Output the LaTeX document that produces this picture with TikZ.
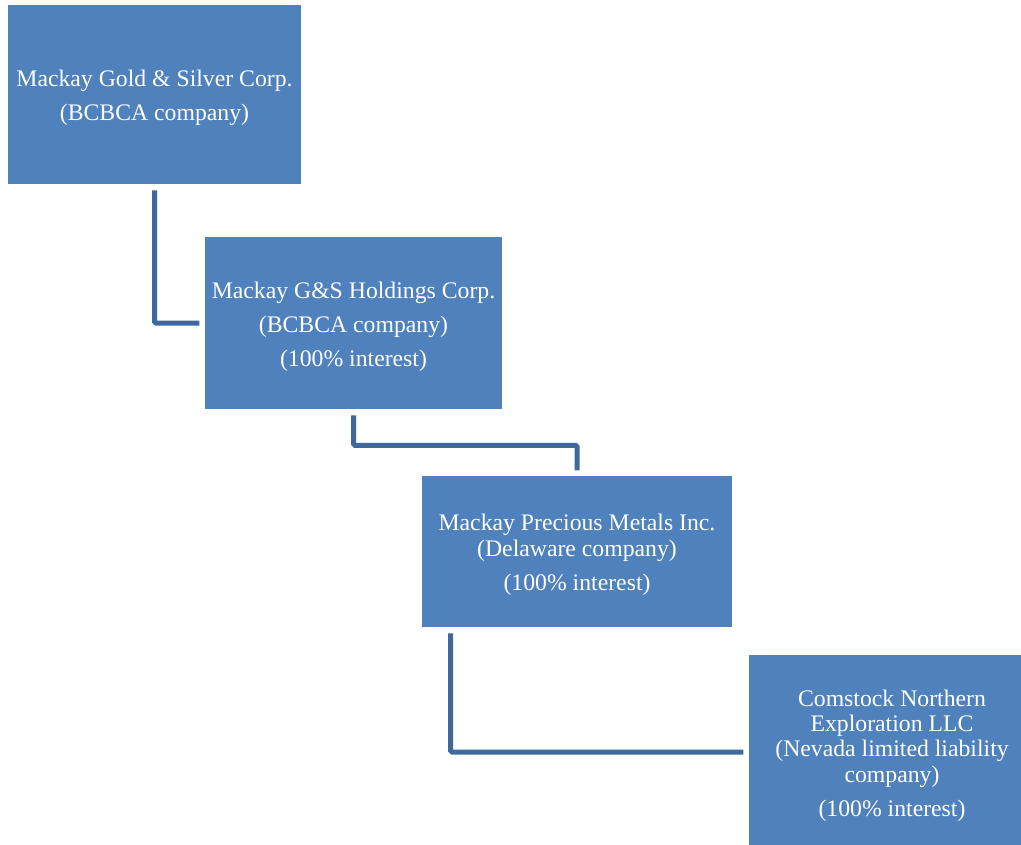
\documentclass[tikz,border=0pt]{standalone}
\usepackage{fontspec}
\setmainfont{Liberation Serif}
\usepackage{xcolor}
\usepackage{tikz}
\definecolor{boxblue}{RGB}{79,129,189}
\definecolor{linkblue}{RGB}{62,104,158}
\tikzstyle{entity}=[fill=boxblue,text=white,align=center,inner sep=0pt,font=\fontsize{17.8}{19}\selectfont]
\tikzstyle{link}=[draw=linkblue,line width=3.75pt,rounded corners=1pt,shorten <=4.5pt,shorten >=4pt]
\def\gap{\\[6.5pt]}
\def\drop{\rule{0pt}{17.5pt}}

\begin{document}
\begin{tikzpicture}[x=0.75pt,y=-0.75pt]
    \useasboundingbox (0,0) rectangle (1021,844);
    \node[entity,minimum width=219.75pt,minimum height=134.25pt] (gold) at (154.5,94.5)
      {\drop Mackay Gold \& Silver Corp.\gap (BCBCA company)};
    \node[entity,minimum width=222.75pt,minimum height=129pt] (hold) at (353.5,323)
      {\drop Mackay G\&S Holdings Corp.\gap (BCBCA company)\gap (100\% interest)};
    \node[entity,minimum width=232.5pt,minimum height=113.25pt] (prec) at (577,551.5)
      {\drop Mackay Precious Metals Inc.\\ (Delaware company)\gap (100\% interest)};
    \node[entity,minimum width=214.5pt,minimum height=145.5pt] (comst) at (892,752)
      {\drop Comstock Northern\\ Exploration LLC\\ (Nevada limited liability\\ company)\gap (100\% interest)};
    \draw[link] (gold.south) |- (hold.west);
    \draw[link] (hold.south) -- ++(0,36) -| (prec.north);
    \draw[link] ([xshift=21.75pt]prec.south west) |- (comst.west);
  \end{tikzpicture}
\end{document}
